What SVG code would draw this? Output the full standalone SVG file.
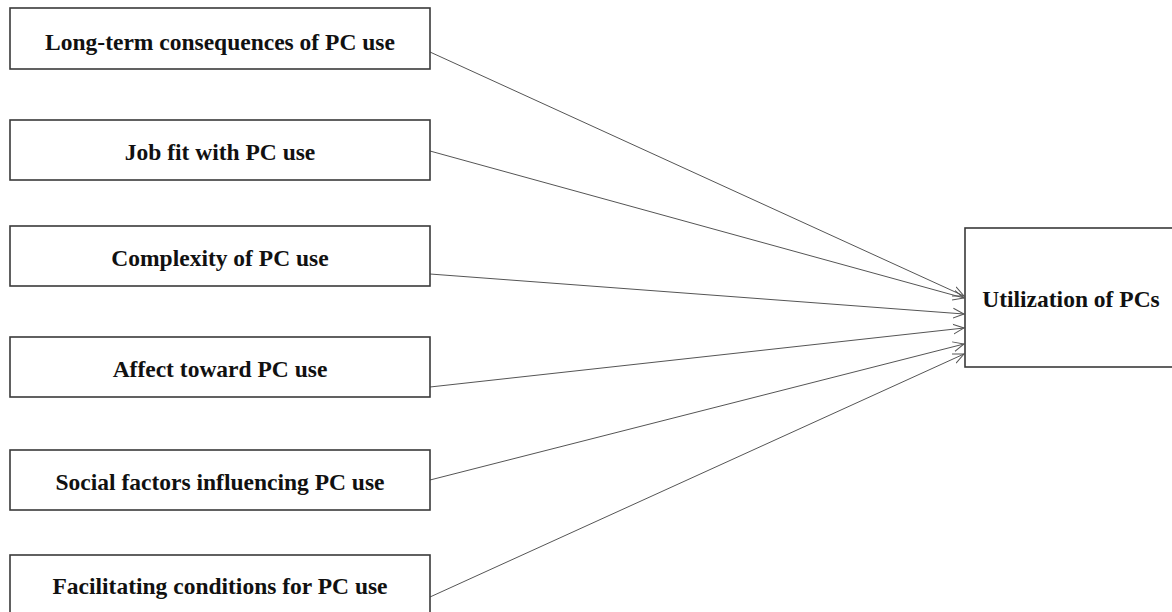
<svg xmlns="http://www.w3.org/2000/svg" width="1172" height="612" viewBox="0 0 1172 612">
  <style>
    .box { fill: #ffffff; stroke: #3a3a3a; stroke-width: 1.6; }
    .label { font-family: "Liberation Serif", "Times New Roman", serif; font-weight: bold; font-size: 23.5px; fill: #111111; text-anchor: middle; }
    .edge { stroke: #555555; stroke-width: 1; fill: none; marker-end: url(#arrow); }
  </style>
  <defs>
    <marker id="arrow" viewBox="0 0 12 12" refX="11" refY="6" markerWidth="12" markerHeight="12" markerUnits="userSpaceOnUse" orient="auto">
      <path d="M0,1 L11,6 L0,11" fill="none" stroke="#555555" stroke-width="1"/>
    </marker>
  </defs>
  <rect width="1172" height="612" fill="#ffffff"/>

  <!-- Connectors: each factor points to the outcome box -->
  <g id="connectors">
    <line class="edge" x1="430" y1="52" x2="964" y2="296"/>
    <line class="edge" x1="430" y1="151" x2="964" y2="298"/>
    <line class="edge" x1="430" y1="274" x2="964" y2="314"/>
    <line class="edge" x1="430" y1="387" x2="964" y2="328"/>
    <line class="edge" x1="430" y1="480" x2="964" y2="344"/>
    <line class="edge" x1="430" y1="597" x2="964" y2="354"/>
  </g>

  <g id="node-long-term">
    <rect class="box" x="10" y="8" width="420" height="61"/>
    <text class="label" x="220" y="49.5">Long-term consequences of PC use</text>
  </g>
  <g id="node-job-fit">
    <rect class="box" x="10" y="120" width="420" height="60"/>
    <text class="label" x="220" y="160">Job fit with PC use</text>
  </g>
  <g id="node-complexity">
    <rect class="box" x="10" y="226" width="420" height="60"/>
    <text class="label" x="220" y="266">Complexity of PC use</text>
  </g>
  <g id="node-affect">
    <rect class="box" x="10" y="337" width="420" height="60"/>
    <text class="label" x="220" y="377">Affect toward PC use</text>
  </g>
  <g id="node-social">
    <rect class="box" x="10" y="450" width="420" height="60"/>
    <text class="label" x="220" y="490">Social factors influencing PC use</text>
  </g>
  <g id="node-facilitating">
    <rect class="box" x="10" y="555" width="420" height="62"/>
    <text class="label" x="220" y="594">Facilitating conditions for PC use</text>
  </g>
  <g id="node-utilization">
    <rect class="box" x="965" y="228" width="220" height="139"/>
    <text class="label" x="1071" y="307">Utilization of PCs</text>
  </g>
</svg>
